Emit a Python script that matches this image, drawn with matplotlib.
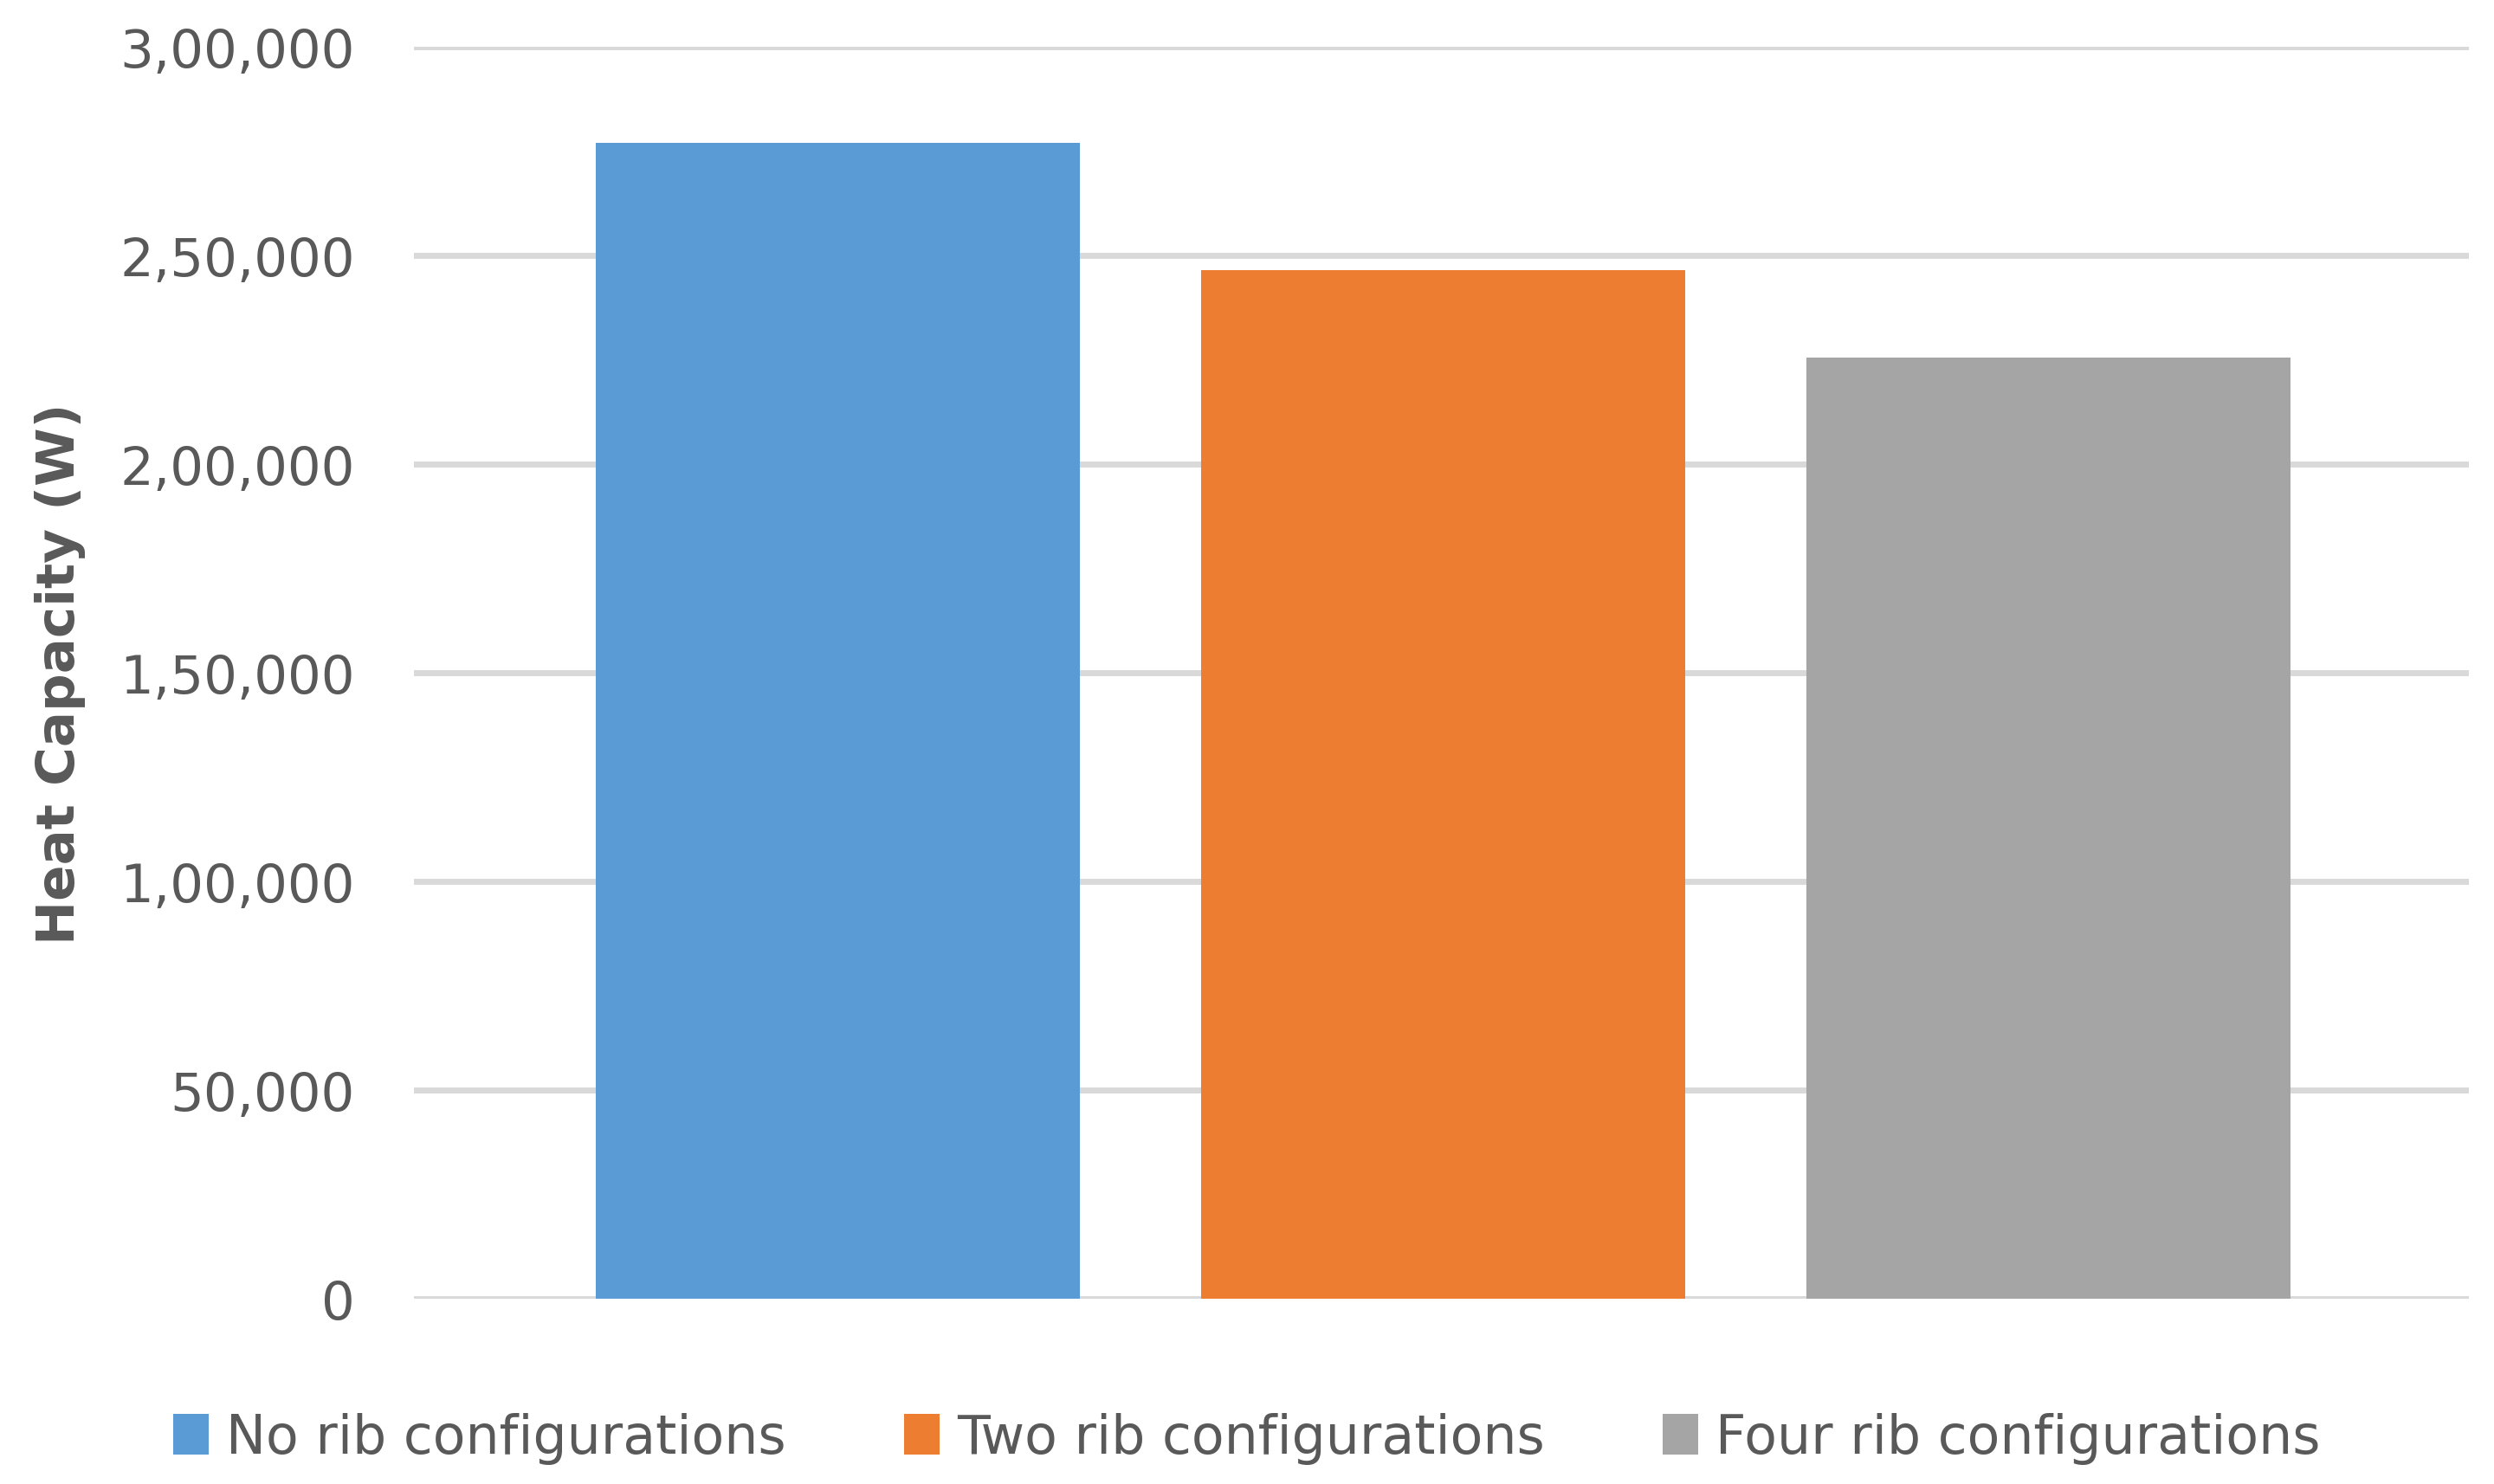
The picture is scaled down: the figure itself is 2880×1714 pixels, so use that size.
import matplotlib
matplotlib.use("Agg")
import matplotlib.pyplot as plt
from matplotlib.ticker import FuncFormatter
from matplotlib.patches import Patch

categories = ["No rib configurations", "Two rib configurations", "Four rib configurations"]
values = [277000, 246500, 225500]
colors = ["#5B9BD5", "#ED7D31", "#A5A5A5"]
y_ticks = [0, 50000, 100000, 150000, 200000, 250000, 300000]

plt.rcParams['font.family'] = ['DejaVu Sans']

def indian(x, pos=None):
    n = int(round(x))
    s = str(n)
    if len(s) <= 3:
        return s
    last3 = s[-3:]
    rest = s[:-3]
    groups = []
    while len(rest) > 2:
        groups.insert(0, rest[-2:])
        rest = rest[:-2]
    if rest:
        groups.insert(0, rest)
    return ",".join(groups) + "," + last3

fig = plt.figure(figsize=(28.8, 17.15), dpi=100)
ax = fig.add_axes([478/2880, 1 - 1501/1715, (2851-478)/2880, (1501-55)/1715])

x = range(len(categories))
ax.bar(x, values, width=0.8, color=colors, zorder=3)
ax.set_xlim(-0.70, 2.695)
ax.set_ylim(0, 300000)
ax.set_yticks(y_ticks)
ax.yaxis.set_major_formatter(FuncFormatter(indian))
ax.grid(axis='y', color='#D9D9D9', linewidth=5, zorder=0)
ax.set_axisbelow(True)
ax.set_xticks([])
for s in ax.spines.values():
    s.set_visible(False)
ax.tick_params(axis='y', length=0, pad=49, labelsize=44, labelcolor='#595959')

fig.text(70/2880, 1 - 778/1715, "Heat Capacity (W)", rotation=90, ha='center', va='center',
         fontsize=44, fontweight='bold', color='#595959')

handles = [Patch(facecolor=c, edgecolor='none') for c in colors]
fig.legend(handles, categories, loc='center', bbox_to_anchor=(0.5, 1 - 1662/1715), ncol=3,
           frameon=False, fontsize=44.5, labelcolor='#595959', handlelength=0.66, handleheight=0.8,
           handletextpad=0.33, columnspacing=2.2)

fig.savefig("out.png", dpi=100, facecolor='white')
